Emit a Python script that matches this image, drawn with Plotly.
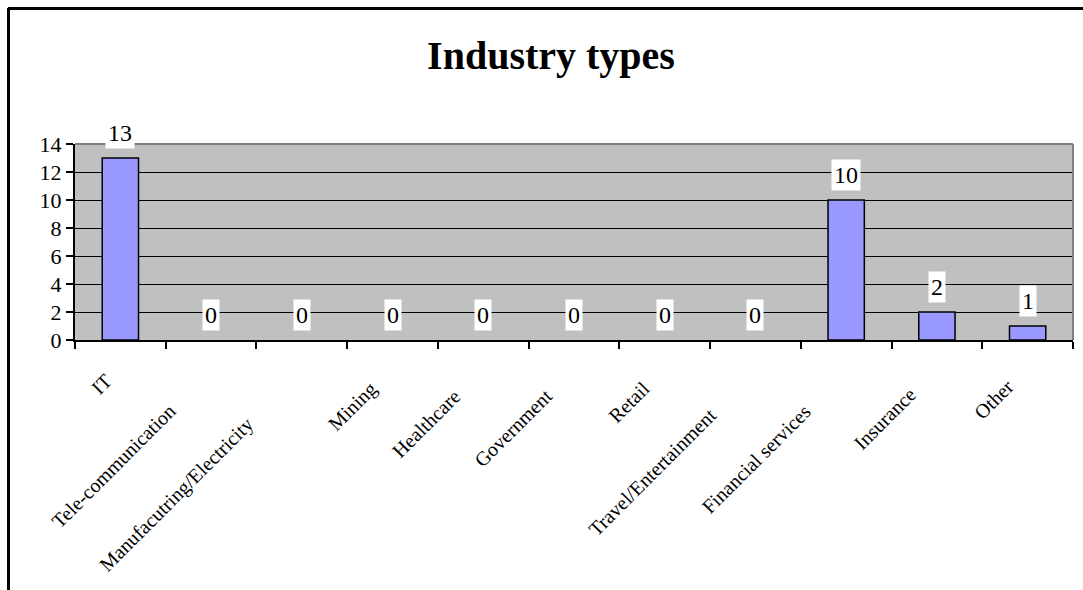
import plotly.graph_objects as go

# Survey responses by industry
industries = [
    "IT", "Tele-communication", "Manufacutring/Electricity", "Mining",
    "Healthcare", "Government", "Retail", "Travel/Entertainment",
    "Financial services", "Insurance", "Other",
]
counts = [13, 0, 0, 0, 0, 0, 0, 0, 10, 2, 1]
y_ticks = [0, 2, 4, 6, 8, 10, 12, 14]

SERIF = "Liberation Serif, Times New Roman, serif"
W, H = 1083, 590
M_L, M_R, M_T, M_B = 75, 10, 144, 250
PW, PH = W - M_L - M_R, H - M_T - M_B

fig = go.Figure(
    go.Bar(
        x=industries,
        y=counts,
        marker=dict(
            color="#9999FF",
            # empty categories get no outline
            line=dict(color="black", width=[1.5 if v > 0 else 0 for v in counts]),
        ),
        width=0.4,
        hoverinfo="x+y",
    )
)

annotations = []
# value labels on white boxes above each bar
for name, v in zip(industries, counts):
    annotations.append(dict(
        x=name, y=v, xref="x", yref="y",
        text=str(v), showarrow=False,
        font=dict(family=SERIF, size=24, color="black"),
        bgcolor="white", borderpad=2,
        xanchor="center", yanchor="middle", yshift=25,
    ))

# rotated category labels; longer names sit further down-left
for name in industries:
    n = len(name)
    annotations.append(dict(
        x=name, y=0, xref="x", yref="paper",
        text=name, showarrow=False, textangle=-45,
        font=dict(family=SERIF, size=20, color="black"),
        xanchor="right", yanchor="top",
        xshift=2 - 1.7 * n, yshift=-(23 + 1.9 * n),
    ))

def px_x(p):
    return (p - M_L) / PW

def px_y(p):
    return (H - M_B - p) / PH

shapes = [
    # grey frame on top and right of the plot area
    dict(type="line", xref="paper", yref="paper", x0=0, x1=1, y0=1, y1=1,
         line=dict(color="#808080", width=2)),
    dict(type="line", xref="paper", yref="paper", x0=1, x1=1, y0=0, y1=1,
         line=dict(color="#808080", width=2)),
    # outer chart border
    dict(type="line", xref="paper", yref="paper",
         x0=px_x(8), x1=px_x(1100), y0=px_y(8.5), y1=px_y(8.5),
         line=dict(color="black", width=3)),
    dict(type="line", xref="paper", yref="paper",
         x0=px_x(8.5), x1=px_x(8.5), y0=px_y(8), y1=px_y(620),
         line=dict(color="black", width=3)),
]

fig.update_layout(
    width=W, height=H,
    margin=dict(l=M_L, r=M_R, t=M_T, b=M_B),
    paper_bgcolor="white",
    plot_bgcolor="#C0C0C0",
    showlegend=False,
    bargap=0.6,
    title=dict(
        text="<b>Industry types</b>",
        font=dict(family=SERIF, size=40, color="black"),
        xref="container", yref="container",
        x=551 / W, xanchor="center",
        y=1 - 55 / H, yanchor="middle",
    ),
    xaxis=dict(
        type="category",
        range=[-0.5, len(industries) - 0.5],
        showticklabels=False,
        ticks="outside", tickson="boundaries",
        ticklen=7, tickwidth=2, tickcolor="black",
        showline=True, linecolor="black", linewidth=2,
        showgrid=False,
    ),
    yaxis=dict(
        range=[0, 14],
        tickvals=y_ticks,
        ticks="outside", ticklen=7, tickwidth=2, tickcolor="black",
        tickfont=dict(family=SERIF, size=22, color="black"),
        showline=True, linecolor="black", linewidth=2,
        showgrid=True, gridcolor="black", gridwidth=1.3,
        zeroline=False,
    ),
    annotations=annotations,
    shapes=shapes,
)

fig.write_html("out.html")
